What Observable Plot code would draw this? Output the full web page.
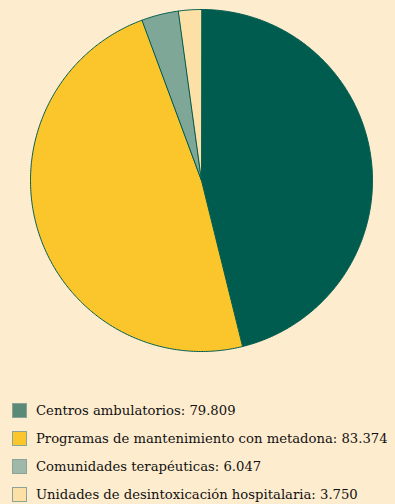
<!DOCTYPE html>
<html>
<head>
<meta charset="utf-8">
<script src="https://cdn.jsdelivr.net/npm/d3@7"></script>
<script src="https://cdn.jsdelivr.net/npm/@observablehq/plot@0.6"></script>
<style>
  html, body { margin: 0; padding: 0; background: #feeccf; }
  #chart svg { display: block; background: #feeccf; }
  #legend { padding: 34px 0 0 12px; font-family: 'DejaVu Serif', serif; font-size: 13.2px; color: #111; white-space: nowrap; }
  .row { display: flex; align-items: center; height: 28px; }
  .sw { width: 13px; height: 13px; border: 1px solid #8aa596; margin-right: 9px; box-sizing: content-box; flex: none; }
</style>
</head>
<body>
<div id="chart"></div>
<div id="legend"></div>
<script>
const categories = ["Centros ambulatorios", "Programas de mantenimiento con metadona", "Comunidades terapéuticas", "Unidades de desintoxicación hospitalaria"];
const values = [79809, 83374, 6047, 3750];
const labels = ["79.809", "83.374", "6.047", "3.750"];
const sliceColors = ["#005c4e", "#fbc62b", "#7fa797", "#fde0a6"];
const swatchColors = ["#5b8a78", "#fbc62b", "#9fb8a9", "#fde0a6"];

const pie = d3.pie().sort(null).value(d => d.value)(categories.map((c, i) => ({name: c, value: values[i]})));

const features = pie.map((p, i) => {
  const ring = [[0, 0]];
  const n = Math.max(4, Math.ceil((p.endAngle - p.startAngle) / 0.01));
  for (let k = 0; k <= n; k++) {
    const t = p.startAngle + (p.endAngle - p.startAngle) * k / n;
    ring.push([Math.sin(t), Math.cos(t)]);
  }
  ring.push([0, 0]);
  return {type: "Feature", properties: {name: p.data.name, idx: i}, geometry: {type: "Polygon", coordinates: [ring]}};
});

const chart = Plot.plot({
  width: 395,
  height: 362,
  marginLeft: 30,
  marginRight: 23,
  marginTop: 9,
  marginBottom: 11,
  projection: {type: "reflect-y", domain: {type: "Polygon", coordinates: [[[-1,-1],[1,-1],[1,1],[-1,1],[-1,-1]]]}},
  marks: [
    Plot.geo(features, {fill: d => sliceColors[d.properties.idx], stroke: "#005c4e", strokeWidth: 1})
  ]
});
document.getElementById("chart").appendChild(chart);

const legend = d3.select("#legend");
categories.forEach((c, i) => {
  const row = legend.append("div").attr("class", "row");
  row.append("div").attr("class", "sw").style("background", swatchColors[i]);
  row.append("span").text(c + ": " + labels[i]);
});
</script>
</body>
</html>
